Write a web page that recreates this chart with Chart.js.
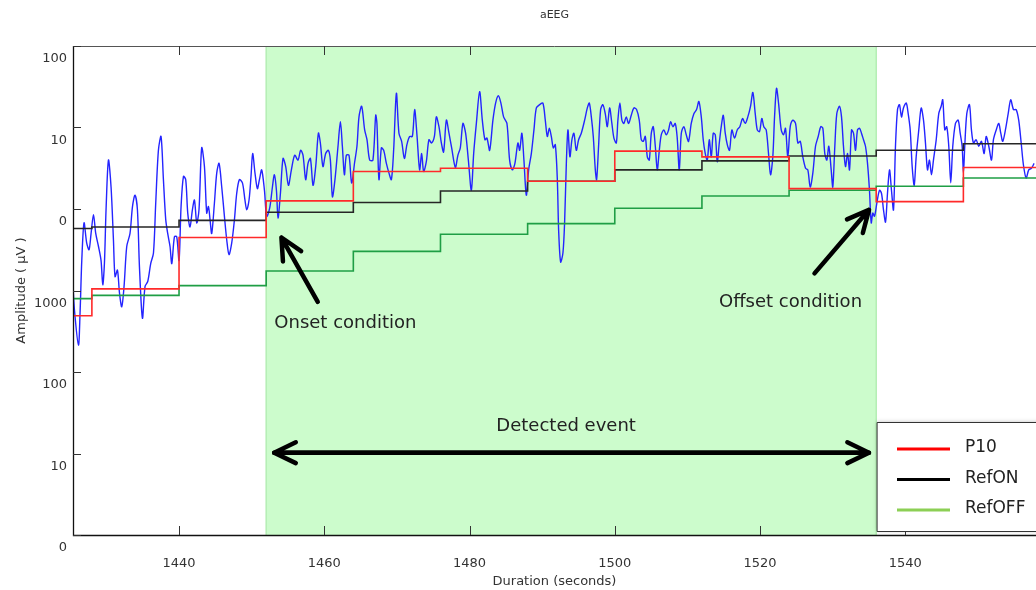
<!DOCTYPE html>
<html>
<head>
<meta charset="utf-8">
<title>aEEG</title>
<script src="https://cdn.jsdelivr.net/npm/chart.js@4.4.1/dist/chart.umd.min.js"></script>
<style>
  html, body { margin: 0; padding: 0; background: #fff; overflow: hidden; }
  canvas { display: block; }
</style>
</head>
<body>
<canvas id="aeeg_chart" width="1036" height="590"></canvas>
<script>
// amplitude axis: 0-6 display units, labelled on the aEEG semi-log grid
var yTickLabels = ["0", "10", "100", "1000", "0", "10", "100"];

// detected event (seconds)
var eventStart = 1452;
var eventEnd = 1536;

// 12 s update blocks for the thresholds
var stepTimes = [1425.4, 1428, 1440, 1452, 1464, 1476, 1488, 1500, 1512, 1524, 1536, 1548, 1558];
var p10 = [2.69, 3.02, 3.65, 4.10, 4.46, 4.50, 4.34, 4.71, 4.64, 4.25, 4.09, 4.51, 4.51];
var refOn = [3.76, 3.78, 3.86, 3.96, 4.08, 4.22, 4.34, 4.48, 4.59, 4.65, 4.72, 4.80, 4.80];
var refOff = [2.90, 2.94, 3.06, 3.24, 3.48, 3.69, 3.82, 4.01, 4.16, 4.23, 4.28, 4.38, 4.38];

// aEEG envelope
var eegTime = [
  1425.37, 1425.60, 1426.15, 1426.37, 1426.61, 1426.92, 1427.29, 1427.61, 1427.89, 1428.22,
  1428.53, 1428.91, 1429.26, 1429.50, 1429.73, 1429.95, 1430.28, 1430.64, 1430.97, 1431.19,
  1431.52, 1431.80, 1432.11, 1432.43, 1432.80, 1433.25, 1433.59, 1433.94, 1434.27, 1434.55,
  1434.96, 1435.32, 1435.69, 1436.10, 1436.48, 1436.79, 1437.16, 1437.52, 1437.85, 1438.17,
  1438.44, 1438.76, 1439.00, 1439.37, 1439.68, 1440.00, 1440.28, 1440.61, 1440.92, 1441.20,
  1441.51, 1441.84, 1442.12, 1442.44, 1442.75, 1443.12, 1443.50, 1443.81, 1444.05, 1444.27,
  1444.50, 1444.87, 1445.19, 1445.51, 1445.88, 1446.25, 1446.57, 1446.88, 1447.25, 1447.63,
  1447.94, 1448.31, 1448.73, 1449.08, 1449.32, 1449.64, 1449.91, 1450.14, 1450.46, 1450.79,
  1451.07, 1451.38, 1451.76, 1452.07, 1452.48, 1452.86, 1453.13, 1453.41, 1453.63, 1453.96,
  1454.32, 1454.69, 1455.06, 1455.47, 1455.93, 1456.38, 1456.75, 1457.07, 1457.44, 1457.76,
  1458.09, 1458.45, 1458.82, 1459.19, 1459.46, 1459.82, 1460.19, 1460.57, 1460.84, 1461.12,
  1461.47, 1461.89, 1462.22, 1462.49, 1462.77, 1463.04, 1463.40, 1463.77, 1464.19, 1464.50,
  1464.78, 1465.15, 1465.56, 1465.88, 1466.25, 1466.70, 1467.08, 1467.25, 1467.53, 1467.86,
  1468.18, 1468.55, 1468.91, 1469.24, 1469.55, 1469.93, 1470.28, 1470.65, 1471.03, 1471.38,
  1471.76, 1472.13, 1472.44, 1472.76, 1473.13, 1473.41, 1473.68, 1474.05, 1474.41, 1474.78,
  1475.16, 1475.43, 1475.79, 1476.12, 1476.43, 1476.81, 1477.17, 1477.54, 1478.05, 1478.40,
  1478.73, 1479.09, 1479.46, 1479.84, 1480.25, 1480.57, 1480.94, 1481.39, 1481.76, 1482.12,
  1482.40, 1482.77, 1483.22, 1483.59, 1483.97, 1484.32, 1484.69, 1485.15, 1485.52, 1485.89,
  1486.25, 1486.66, 1486.90, 1487.21, 1487.49, 1487.82, 1488.14, 1488.51, 1488.87, 1489.20,
  1489.65, 1490.10, 1490.43, 1490.71, 1490.99, 1491.26, 1491.54, 1491.81, 1492.09, 1492.27,
  1492.54, 1492.86, 1493.09, 1493.33, 1493.55, 1493.82, 1494.10, 1494.37, 1494.70, 1495.02,
  1495.39, 1495.85, 1496.22, 1496.49, 1496.77, 1497.04, 1497.32, 1497.50, 1497.77, 1498.05,
  1498.36, 1498.69, 1498.97, 1499.29, 1499.60, 1499.88, 1500.21, 1500.43, 1500.70, 1500.98,
  1501.25, 1501.58, 1501.90, 1502.27, 1502.63, 1503.00, 1503.37, 1503.65, 1503.92, 1504.20,
  1504.48, 1504.75, 1505.03, 1505.30, 1505.58, 1505.85, 1506.13, 1506.40, 1506.76, 1507.09,
  1507.41, 1507.68, 1508.00, 1508.33, 1508.60, 1508.88, 1509.16, 1509.51, 1509.84, 1510.16,
  1510.53, 1510.89, 1511.26, 1511.58, 1511.91, 1512.18, 1512.46, 1512.74, 1513.01, 1513.29,
  1513.56, 1513.84, 1514.11, 1514.39, 1514.66, 1514.94, 1515.21, 1515.49, 1515.80, 1516.12,
  1516.49, 1516.86, 1517.22, 1517.59, 1517.96, 1518.32, 1518.69, 1519.01, 1519.34, 1519.62,
  1519.93, 1520.25, 1520.52, 1520.85, 1521.17, 1521.45, 1521.76, 1522.00, 1522.27, 1522.55,
  1522.92, 1523.24, 1523.51, 1523.83, 1524.16, 1524.52, 1524.89, 1525.21, 1525.54, 1525.89,
  1526.27, 1526.58, 1526.91, 1527.27, 1527.64, 1528.01, 1528.37, 1528.65, 1528.92, 1529.20,
  1529.47, 1529.80, 1530.02, 1530.30, 1530.57, 1530.94, 1531.22, 1531.49, 1531.77, 1532.05,
  1532.32, 1532.60, 1532.87, 1533.15, 1533.42, 1533.70, 1533.97, 1534.25, 1534.52, 1534.80,
  1535.07, 1535.31, 1535.53, 1535.76, 1536.08, 1536.45, 1536.73, 1537.00, 1537.28, 1537.55,
  1537.83, 1538.10, 1538.38, 1538.65, 1538.93, 1539.20, 1539.48, 1539.75, 1540.13, 1540.40,
  1540.68, 1540.95, 1541.23, 1541.50, 1541.86, 1542.19, 1542.51, 1542.78, 1543.06, 1543.33,
  1543.61, 1543.88, 1544.26, 1544.61, 1544.94, 1545.16, 1545.44, 1545.71, 1545.99, 1546.26,
  1546.54, 1546.91, 1547.28, 1547.56, 1547.83, 1548.01, 1548.19, 1548.47, 1548.84, 1549.11,
  1549.39, 1549.76, 1550.12, 1550.49, 1550.86, 1551.14, 1551.50, 1551.87, 1552.14, 1552.52,
  1552.87, 1553.15, 1553.42, 1553.79, 1554.17, 1554.52, 1554.90, 1555.27, 1555.62, 1555.96,
  1556.27, 1556.64, 1557.00, 1557.37, 1557.74
];
var eegAmp = [
  3.11, 2.76, 2.33, 2.72, 3.37, 3.83, 3.58, 3.50, 3.70, 3.93,
  3.70, 3.54, 3.37, 3.07, 3.34, 3.99, 4.60, 4.27, 3.62, 3.17,
  3.25, 2.97, 2.80, 3.05, 3.54, 3.70, 4.03, 4.17, 3.99, 3.29,
  2.66, 3.05, 3.11, 3.33, 3.46, 4.07, 4.72, 4.89, 4.36, 3.87,
  3.70, 3.54, 3.33, 3.66, 3.66, 3.37, 4.03, 4.40, 4.36, 3.95,
  3.78, 3.99, 4.11, 3.83, 3.99, 4.75, 4.52, 3.95, 4.03, 3.87,
  3.70, 4.07, 4.44, 4.56, 4.27, 3.91, 3.62, 3.44, 3.58, 3.87,
  4.19, 4.36, 4.32, 4.11, 3.99, 4.11, 4.40, 4.68, 4.44, 4.25,
  4.36, 4.48, 4.23, 3.91, 4.01, 4.27, 4.42, 4.23, 3.89, 4.19,
  4.62, 4.52, 4.29, 4.48, 4.66, 4.60, 4.72, 4.66, 4.36, 4.56,
  4.62, 4.29, 4.52, 4.93, 4.81, 4.52, 4.68, 4.72, 4.60, 4.15,
  4.36, 4.77, 5.07, 4.77, 4.42, 4.66, 4.66, 4.32, 4.58, 4.77,
  5.13, 5.26, 4.97, 4.85, 4.60, 4.60, 5.15, 5.05, 4.36, 4.75,
  4.72, 4.56, 4.44, 4.36, 4.72, 5.42, 4.93, 4.83, 4.62, 4.79,
  4.89, 4.89, 5.22, 4.91, 4.48, 4.68, 4.46, 4.58, 4.85, 4.81,
  4.89, 5.13, 5.01, 4.81, 4.70, 5.09, 4.93, 4.75, 4.51, 4.66,
  4.75, 5.05, 4.93, 4.60, 4.23, 4.68, 5.05, 5.44, 5.09, 4.85,
  4.87, 4.72, 5.09, 5.30, 5.39, 5.30, 5.13, 5.05, 4.60, 4.48,
  4.56, 4.81, 4.72, 4.93, 4.60, 4.17, 4.48, 4.68, 4.97, 5.24,
  5.28, 5.30, 5.09, 4.89, 4.99, 4.89, 4.75, 4.79, 4.36, 3.74,
  3.35, 3.46, 3.83, 4.56, 4.97, 4.64, 4.85, 4.93, 4.72, 4.85,
  4.93, 5.09, 5.24, 5.30, 5.13, 4.89, 4.48, 4.36, 4.77, 5.22,
  5.28, 5.17, 5.01, 5.24, 5.05, 4.87, 4.81, 5.09, 5.30, 5.09,
  5.05, 5.13, 5.05, 5.15, 5.24, 5.22, 5.09, 4.85, 4.83, 4.89,
  4.64, 4.60, 4.93, 5.01, 4.77, 4.48, 4.72, 4.91, 4.97, 4.91,
  4.97, 5.07, 5.01, 5.05, 4.87, 4.48, 4.93, 5.01, 4.91, 4.83,
  5.05, 5.17, 5.22, 5.32, 5.13, 4.85, 4.68, 4.60, 4.85, 4.64,
  4.93, 4.91, 4.58, 4.81, 5.01, 5.15, 4.93, 4.79, 4.72, 4.97,
  4.87, 4.97, 5.01, 5.11, 5.05, 5.13, 5.26, 5.43, 5.17, 4.97,
  4.95, 5.11, 5.01, 4.97, 4.68, 4.42, 4.64, 5.13, 5.48, 5.30,
  4.97, 4.91, 4.99, 4.64, 5.01, 5.09, 5.05, 4.81, 4.83, 4.64,
  4.50, 4.48, 4.27, 4.44, 4.77, 4.89, 5.01, 4.99, 4.68, 4.60,
  4.77, 4.48, 4.27, 4.77, 5.17, 5.26, 5.13, 4.77, 4.52, 4.68,
  4.48, 4.97, 4.93, 4.72, 4.97, 4.99, 4.93, 4.85, 4.77, 4.56,
  4.23, 3.83, 3.95, 3.91, 4.07, 4.23, 4.19, 3.99, 3.84, 4.19,
  4.48, 4.23, 3.99, 4.77, 5.22, 5.28, 5.13, 5.24, 5.30, 5.17,
  4.97, 4.52, 4.29, 4.64, 4.97, 5.24, 5.09, 4.81, 4.48, 4.60,
  4.42, 4.60, 4.85, 5.17, 5.26, 5.34, 4.97, 5.01, 4.77, 4.32,
  4.77, 5.05, 5.09, 4.93, 4.77, 4.44, 4.77, 5.17, 5.28, 4.97,
  4.81, 4.85, 4.77, 4.83, 4.68, 4.89, 4.77, 4.60, 4.85, 4.97,
  5.05, 4.93, 4.83, 4.97, 5.17, 5.34, 5.22, 5.22, 5.09, 4.81,
  4.54, 4.38, 4.48, 4.50, 4.56
];

var legendLabels = ["P10", "RefON", "RefOFF"];
var legendColors = ["#ff0000", "#000000", "#8ccf55"];

// annotation notes: [time, amplitude] pairs
var onsetArrow = [[1459.1, 2.86], [1454.1, 3.65]];
var offsetArrow = [[1527.5, 3.21], [1535.0, 3.99]];
var eventArrow = [[1453.1, 1.01], [1535.0, 1.01]];

function puntos(xs, ys) {
    return xs.map(function (t, i) { return { x: t, y: ys[i] }; });
}

function flecha(ctx, x0, y0, x1, y1) {
    // open arrow head at (x1, y1)
    var ang = Math.atan2(y1 - y0, x1 - x0);
    var len = 24, ala = 0.45;
    ctx.beginPath();
    ctx.moveTo(x0, y0);
    ctx.lineTo(x1, y1);
    ctx.moveTo(x1 - len * Math.cos(ang - ala), y1 - len * Math.sin(ang - ala));
    ctx.lineTo(x1, y1);
    ctx.lineTo(x1 - len * Math.cos(ang + ala), y1 - len * Math.sin(ang + ala));
    ctx.stroke();
}

const aeegDecor = {
    id: "aeegDecor",
    beforeDatasetsDraw(chart) {
        const ctx = chart.ctx, a = chart.chartArea, x = chart.scales.x;
        const x0 = x.getPixelForValue(eventStart), x1 = x.getPixelForValue(eventEnd);
        ctx.save();
        ctx.fillStyle = "rgb(204,252,204)";
        ctx.fillRect(x0, a.top, x1 - x0, a.bottom - a.top);
        ctx.strokeStyle = "rgb(180,238,180)";
        ctx.lineWidth = 1.5;
        ctx.beginPath();
        ctx.moveTo(x0, a.top); ctx.lineTo(x0, a.bottom);
        ctx.moveTo(x1, a.top); ctx.lineTo(x1, a.bottom);
        ctx.stroke();
        ctx.restore();
    },
    afterDatasetsDraw(chart) {
        const ctx = chart.ctx, a = chart.chartArea, x = chart.scales.x, y = chart.scales.y;
        const px = function (p) { return [x.getPixelForValue(p[0]), y.getPixelForValue(p[1])]; };
        ctx.save();

        // box and inward ticks
        ctx.lineWidth = 1;
        ctx.strokeStyle = "#555";
        ctx.beginPath();
        ctx.moveTo(a.left, a.top + 0.5); ctx.lineTo(a.right, a.top + 0.5);
        ctx.stroke();
        ctx.strokeStyle = "#111";
        ctx.lineWidth = 1.3;
        ctx.beginPath();
        ctx.moveTo(a.left + 0.5, a.top); ctx.lineTo(a.left + 0.5, a.bottom + 0.5);
        ctx.lineTo(a.right, a.bottom + 0.5);
        ctx.stroke();
        ctx.lineWidth = 1;
        ctx.strokeStyle = "#333";
        ctx.beginPath();
        x.ticks.forEach(function (t) {
            const p = Math.round(x.getPixelForValue(t.value)) + 0.5;
            ctx.moveTo(p, a.bottom); ctx.lineTo(p, a.bottom - 9);
            ctx.moveTo(p, a.top); ctx.lineTo(p, a.top + 9);
        });
        y.ticks.forEach(function (t) {
            const p = Math.round(y.getPixelForValue(t.value)) + 0.5;
            ctx.moveTo(a.left, p); ctx.lineTo(a.left + 8, p);
        });
        ctx.stroke();

        // arrows
        ctx.strokeStyle = "#000";
        ctx.lineWidth = 4.5;
        ctx.lineCap = "round";
        ctx.lineJoin = "round";
        [onsetArrow, offsetArrow].forEach(function (ar) {
            const s = px(ar[0]), e = px(ar[1]);
            flecha(ctx, s[0], s[1], e[0], e[1]);
        });
        const l = px(eventArrow[0]), r = px(eventArrow[1]);
        flecha(ctx, r[0], r[1], l[0], l[1]);
        flecha(ctx, l[0], l[1], r[0], r[1]);

        // notes
        ctx.fillStyle = "#222";
        ctx.font = "18px 'DejaVu Sans'";
        ctx.textAlign = "center";
        ctx.textBaseline = "middle";
        ctx.fillText("Onset condition", x.getPixelForValue(1462.9), y.getPixelForValue(2.6));
        ctx.fillText("Offset condition", x.getPixelForValue(1524.2), y.getPixelForValue(2.86));
        ctx.fillText("Detected event", x.getPixelForValue(1493.3), y.getPixelForValue(1.33));

        // legend
        const bx = a.right - 159, by = a.bottom - 113, bw = 170, bh = 109;
        ctx.shadowColor = "rgba(0,0,0,0.25)";
        ctx.shadowBlur = 4;
        ctx.fillStyle = "#fff";
        ctx.fillRect(bx, by, bw, bh);
        ctx.shadowColor = "transparent";
        ctx.shadowBlur = 0;
        ctx.strokeStyle = "#333";
        ctx.lineWidth = 1;
        ctx.strokeRect(bx + 0.5, by + 0.5, bw, bh);
        ctx.font = "17px 'DejaVu Sans'";
        ctx.textAlign = "left";
        ctx.lineCap = "butt";
        legendLabels.forEach(function (lab, i) {
            const ly = by + 27 + i * 30.5;
            ctx.strokeStyle = legendColors[i];
            ctx.lineWidth = 3;
            ctx.beginPath();
            ctx.moveTo(bx + 20, ly); ctx.lineTo(bx + 73, ly);
            ctx.stroke();
            ctx.fillStyle = "#222";
            ctx.fillText(lab, bx + 88, ly - 1);
        });
        ctx.restore();
    }
};

function GraficaAEEG() {
    let ctx = document.getElementById("aeeg_chart").getContext("2d");
    const chart = new Chart(ctx, {
        type: "line",
        data: {
            datasets: [
                {
                    label: "P10",
                    data: puntos(stepTimes, p10),
                    borderColor: "#ff2a2a",
                    borderWidth: 1.6,
                    stepped: "before",
                    order: 1
                },
                {
                    label: "RefON",
                    data: puntos(stepTimes, refOn),
                    borderColor: "#262626",
                    borderWidth: 1.6,
                    stepped: "before",
                    order: 2
                },
                {
                    label: "RefOFF",
                    data: puntos(stepTimes, refOff),
                    borderColor: "#1f9e45",
                    borderWidth: 1.6,
                    stepped: "before",
                    order: 3
                },
                {
                    label: "aEEG",
                    data: puntos(eegTime, eegAmp),
                    borderColor: "#2424ff",
                    borderWidth: 1.4,
                    tension: 0.3,
                    order: 4
                }
            ]
        },
        options: {
            responsive: false,
            animation: false,
            events: [],
            elements: { point: { radius: 0 }, line: { tension: 0 } },
            layout: { padding: { left: 0, right: 0, top: 0, bottom: 0 } },
            plugins: {
                legend: { display: false },
                tooltip: { enabled: false },
                title: {
                    display: true,
                    text: "aEEG",
                    fullSize: false,
                    color: "#333",
                    font: { family: "DejaVu Sans", size: 11, weight: "normal" },
                    padding: { top: 9, bottom: 23.8 }
                }
            },
            scales: {
                x: {
                    type: "linear",
                    min: 1425.4,
                    max: 1558,
                    grid: { display: false, drawTicks: false },
                    border: { display: false },
                    ticks: {
                        stepSize: 20,
                        includeBounds: false,
                        padding: 21,
                        color: "#333",
                        font: { family: "DejaVu Sans", size: 13 },
                        callback: function (v) { return String(v); }
                    },
                    title: {
                        display: true,
                        text: "Duration (seconds)",
                        color: "#333",
                        font: { family: "DejaVu Sans", size: 13 },
                        padding: { top: 0, bottom: 1 }
                    },
                    afterFit: function (s) { s.height = 55; }
                },
                y: {
                    type: "linear",
                    min: 0,
                    max: 6,
                    grid: { display: false, drawTicks: false },
                    border: { display: false },
                    ticks: {
                        stepSize: 1,
                        padding: 6,
                        labelOffset: 13,
                        color: "#333",
                        font: { family: "DejaVu Sans", size: 13 },
                        callback: function (v) { return yTickLabels[v]; }
                    },
                    title: {
                        display: true,
                        text: "Amplitude ( \u00b5V )",
                        color: "#333",
                        font: { family: "DejaVu Sans", size: 13 },
                        padding: { top: 14, bottom: 0 }
                    },
                    afterFit: function (s) { s.width = 73; }
                }
            }
        },
        plugins: [aeegDecor]
    });
}

GraficaAEEG();
</script>
</body>
</html>
